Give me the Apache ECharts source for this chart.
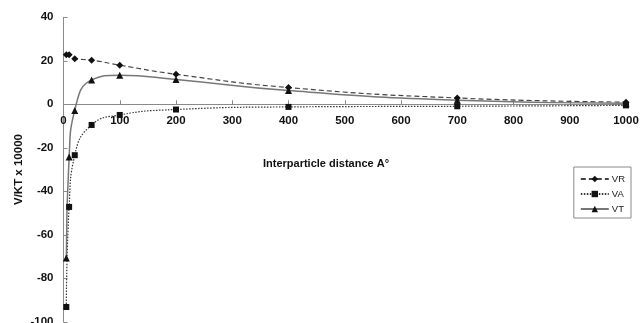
<!DOCTYPE html>
<html><head><meta charset="utf-8">
<script src="https://cdn.jsdelivr.net/npm/echarts@6/dist/echarts.min.js"></script>
<style>html,body{margin:0;padding:0;background:#fff}#c{width:640px;height:323px}</style>
</head><body><div id="c"></div>
<script>
const distances = [5, 10, 20, 50, 100, 200, 400, 700, 1000];
const VR = [22.8, 22.8, 21.0, 20.3, 18.0, 13.8, 7.7, 2.9, 1.0];
const VA = [-93.2, -47.2, -23.4, -9.5, -4.9, -2.4, -1.2, -0.9, -0.5];
const VT = [-70.7, -24.2, -2.8, 11.2, 13.4, 11.4, 6.3, 1.9, 0.5];
const xTicks = {min: 0, max: 1000, interval: 100};
const yTicks = {min: -100, max: 40, interval: 20};
const pairs = ys => distances.map((d, i) => [d, ys[i]]);

const font = 'Liberation Sans, Arial, sans-serif';
const gridTop = 17.3, gridBottom = 1.2, H = 323;
const plotH = H - gridTop - gridBottom;
const zeroOffset = -plotH * (0 - yTicks.min) / (yTicks.max - yTicks.min);

const chart = echarts.init(document.getElementById('c'));
chart.setOption({
  animation: false,
  backgroundColor: '#fff',
  grid: {left: 63.5, right: 14, top: gridTop, bottom: gridBottom, containLabel: false, outerBoundsMode: 'none'},
  xAxis: {
    type: 'value', min: xTicks.min, max: xTicks.max, interval: xTicks.interval,
    position: 'bottom', offset: zeroOffset,
    axisLine: {onZero: false, lineStyle: {color: '#8a8a8a', width: 1}},
    axisTick: {inside: true, length: 4, lineStyle: {color: '#8a8a8a'}},
    axisLabel: {color: '#111', fontFamily: font, fontWeight: 'bold', fontSize: 11.5, margin: 11,
      formatter: v => String(v)},
    splitLine: {show: false}
  },
  yAxis: {
    type: 'value', min: yTicks.min, max: yTicks.max, interval: yTicks.interval,
    name: 'V/KT x 10000', nameLocation: 'middle', nameGap: 39, nameMoveOverlap: false,
    nameTextStyle: {color: '#111', fontFamily: font, fontWeight: 'bold', fontSize: 11.5},
    axisLine: {show: true, onZero: false, lineStyle: {color: '#8a8a8a', width: 1}},
    axisTick: {show: true, inside: true, length: 4, lineStyle: {color: '#8a8a8a'}},
    axisLabel: {color: '#111', fontFamily: font, fontWeight: 'bold', fontSize: 11.5, margin: 10,
      formatter: v => String(v)},
    splitLine: {show: false}
  },
  legend: {
    orient: 'vertical', right: 9, top: 167,
    data: ['VR', 'VA', 'VT'],
    borderColor: '#8a8a8a', borderWidth: 1, padding: [7, 6, 4, 6],
    itemWidth: 28, itemHeight: 8, itemGap: 5,
    textStyle: {fontFamily: font, fontSize: 9.5, color: '#222', padding: [0, 0, 0, -2]}
  },
  graphic: [{
    type: 'text', left: 263, top: 158,
    style: {text: 'Interparticle distance A°', font: 'bold 11px ' + font, fill: '#111'}
  }],
  series: [
    {name: 'VR', type: 'line', data: pairs(VR), smooth: 0.5,
     symbol: 'diamond', symbolSize: 7, itemStyle: {color: '#111'},
     lineStyle: {color: '#444', width: 1.2, type: [5, 3]}},
    {name: 'VA', type: 'line', data: pairs(VA), smooth: 0.5,
     symbol: 'rect', symbolSize: 6, itemStyle: {color: '#111'},
     lineStyle: {color: '#333', width: 1.2, type: [1.5, 1.5]}},
    {name: 'VT', type: 'line', data: pairs(VT), smooth: 0.5,
     symbol: 'triangle', symbolSize: 7, itemStyle: {color: '#111'},
     lineStyle: {color: '#777', width: 1.5, type: 'solid'}}
  ]
});
</script></body></html>
